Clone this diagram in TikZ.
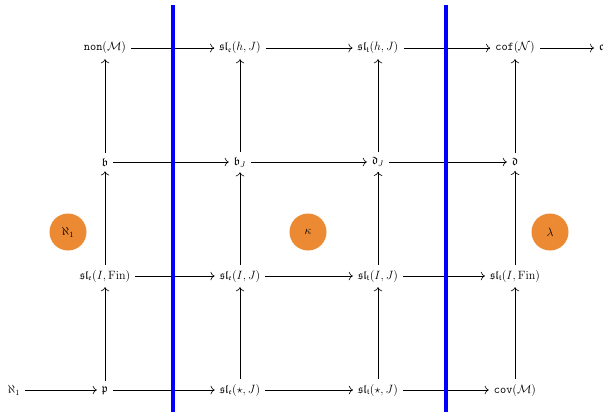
\documentclass[tikz,border=0pt]{standalone}
\usepackage{amsmath,amssymb}
\usetikzlibrary{arrows.meta}
\begin{document}
\begin{tikzpicture}[x=1pt,y=-1pt,font=\large,
  lbl/.style={inner sep=5pt},
  arr/.style={-{To[scale=1.4]},line width=0.6pt},
  wall/.style={blue,line width=3.5pt},
  blob/.style={circle,fill=blobc,minimum size=37pt,inner sep=0pt}]
\definecolor{blobc}{RGB}{236,137,51}
\useasboundingbox (0,0) rectangle (607,412);
% row 1
\node[lbl] (nonM) at (105,48) {$\mathtt{non}(\mathcal{M})$};
\node[lbl] (sleh) at (240,48) {$\mathfrak{sl}_{\mathfrak{e}}(h,J)$};
\node[lbl] (slth) at (378,48) {$\mathfrak{sl}_{\mathfrak{t}}(h,J)$};
\node[lbl] (cofN) at (515,48) {$\mathtt{cof}(\mathcal{N})$};
\node[lbl,anchor=west] (c) at (594,48) {$\mathfrak{c}$};
% row 2
\node[lbl] (b) at (105,162) {$\mathfrak{b}$};
\node[lbl] (bJ) at (240,162) {$\mathfrak{b}_J$};
\node[lbl] (dJ) at (378,162) {$\mathfrak{d}_J$};
\node[lbl] (d) at (515,162) {$\mathfrak{d}$};
% row 3
\node[lbl] (sleIF) at (105,276) {$\mathfrak{sl}_{\mathfrak{e}}(I,\mathrm{Fin})$};
\node[lbl] (sleIJ) at (240,276) {$\mathfrak{sl}_{\mathfrak{e}}(I,J)$};
\node[lbl] (sltIJ) at (378,276) {$\mathfrak{sl}_{\mathfrak{t}}(I,J)$};
\node[lbl] (sltIF) at (515,276) {$\mathfrak{sl}_{\mathfrak{t}}(I,\mathrm{Fin})$};
% row 4
\node[lbl] (aleph) at (14,390) {$\aleph_1$};
\node[lbl] (p) at (105,390) {$\mathfrak{p}$};
\node[lbl] (slest) at (240,390) {$\mathfrak{sl}_{\mathfrak{e}}(\star,J)$};
\node[lbl] (sltst) at (378,390) {$\mathfrak{sl}_{\mathfrak{t}}(\star,J)$};
\node[lbl] (covM) at (515,390) {$\mathtt{cov}(\mathcal{M})$};
% circles
\node[blob] (k1) at (68,232) {$\aleph_1$};
\node[blob] (k2) at (308,232) {$\kappa$};
\node[blob] (k3) at (550,232) {$\lambda$};
% horizontal arrows
\draw[arr] (nonM) -- (sleh);
\draw[arr] (sleh) -- (slth);
\draw[arr] (slth) -- (cofN);
\draw[arr] (cofN) -- (c);
\draw[arr] (b) -- (bJ);
\draw[arr] (bJ) -- (dJ);
\draw[arr] (dJ) -- (d);
\draw[arr] (sleIF) -- (sleIJ);
\draw[arr] (sleIJ) -- (sltIJ);
\draw[arr] (sltIJ) -- (sltIF);
\draw[arr] (aleph) -- (p);
\draw[arr] (p) -- (slest);
\draw[arr] (slest) -- (sltst);
\draw[arr] (sltst) -- (covM);
% vertical arrows
\draw[arr] (p) -- (sleIF);
\draw[arr] (sleIF) -- (b);
\draw[arr] (b) -- (nonM);
\draw[arr] (slest) -- (sleIJ);
\draw[arr] (sleIJ) -- (bJ);
\draw[arr] (bJ) -- (sleh);
\draw[arr] (sltst) -- (sltIJ);
\draw[arr] (sltIJ) -- (dJ);
\draw[arr] (dJ) -- (slth);
\draw[arr] (covM) -- (sltIF);
\draw[arr] (sltIF) -- (d);
\draw[arr] (d) -- (cofN);
% walls
\coordinate (w1t) at (173,5); \coordinate (w1b) at (173,412);
\coordinate (w2t) at (446,5); \coordinate (w2b) at (446,412);
\draw[wall] (w1t) -- (w1b);
\draw[wall] (w2t) -- (w2b);
\end{tikzpicture}
\end{document}
